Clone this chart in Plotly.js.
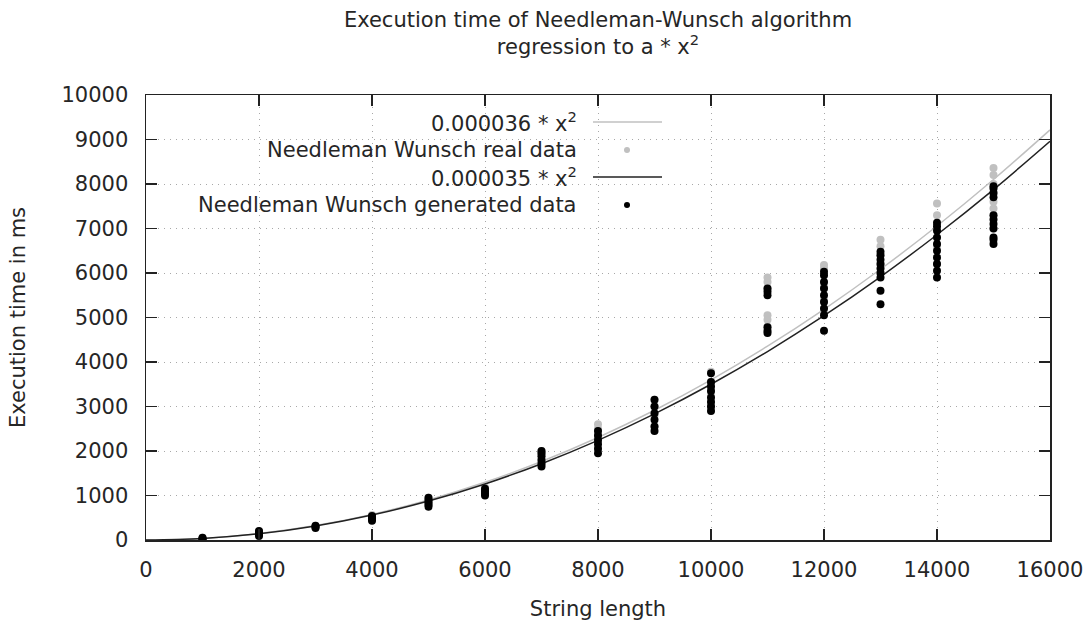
<!DOCTYPE html>
<html>
<head>
<meta charset="utf-8">
<script src="https://cdn.plot.ly/plotly-3.0.1.min.js"></script>
<style>
html,body{margin:0;padding:0;background:#fff;}
#chart{width:1089px;height:626px;}
</style>
</head>
<body>
<div id="chart"></div>
<script>
// Fitted curves sampled every 1000 characters of string length
const curveX = [0,1000,2000,3000,4000,5000,6000,7000,8000,9000,10000,11000,12000,13000,14000,15000,16000];
const fit036 = [0,36,144,324,576,900,1296,1764,2304,2916,3600,4356,5184,6084,7056,8100,9216];
const fit035 = [0,35,140,315,560,875,1260,1715,2240,2835,3500,4235,5040,5915,6860,7875,8960];

// Needleman Wunsch real data (string length, time in ms)
const realX = [
  1000,1000,1000,
  2000,2000,2000,
  3000,3000,
  4000,4000,4000,
  5000,5000,5000,
  6000,6000,6000,
  7000,7000,7000,7000,
  8000,8000,8000,8000,8000,
  9000,9000,9000,9000,
  10000,10000,10000,10000,
  11000,11000,11000,11000,11000,11000,
  12000,12000,12000,12000,12000,12000,
  13000,13000,13000,13000,13000,
  14000,14000,14000,14000,14000,
  15000,15000,15000,15000,15000,15000,15000,15000
];
const realY = [
  30,40,50,
  120,150,190,
  290,320,
  470,520,560,
  800,880,950,
  1050,1120,1180,
  1700,1800,1900,2000,
  2050,2200,2350,2500,2600,
  2550,2800,3000,3150,
  3000,3300,3550,3780,
  4800,4950,5050,5650,5800,5900,
  5100,5400,5700,5950,6100,6180,
  6000,6200,6400,6600,6750,
  6200,6600,7000,7300,7560,
  7000,7300,7450,7600,7800,8000,8200,8360
];

// Needleman Wunsch generated data
const genX = [
  1000,1000,1000,
  2000,2000,2000,2000,
  3000,3000,3000,
  4000,4000,4000,4000,
  5000,5000,5000,5000,5000,
  6000,6000,6000,6000,
  7000,7000,7000,7000,7000,7000,
  8000,8000,8000,8000,8000,8000,
  9000,9000,9000,9000,9000,9000,
  10000,10000,10000,10000,10000,10000,10000,10000,
  11000,11000,11000,11000,11000,11000,
  12000,12000,12000,12000,12000,12000,12000,12000,12000,
  13000,13000,13000,13000,13000,13000,13000,13000,13000,
  14000,14000,14000,14000,14000,14000,14000,14000,14000,14000,
  15000,15000,15000,15000,15000,15000,15000,15000,15000,15000,15000
];
const genY = [
  10,30,50,
  90,130,170,200,
  270,300,320,
  430,470,510,540,
  750,800,850,900,950,
  1000,1050,1100,1150,
  1650,1720,1800,1880,1950,2000,
  1950,2050,2150,2250,2350,2450,
  2450,2550,2700,2850,3000,3150,
  2900,3000,3100,3200,3350,3450,3550,3750,
  4650,4700,4780,5500,5580,5650,
  4700,5050,5200,5350,5500,5650,5800,5950,6030,
  5300,5600,5900,6000,6100,6200,6300,6400,6480,
  5900,6050,6200,6350,6500,6650,6800,6950,7050,7130,
  6650,6750,6800,7000,7100,7200,7300,7700,7800,7900,7950
];

const xTicks = [0,2000,4000,6000,8000,10000,12000,14000,16000];
const yTicks = [0,1000,2000,3000,4000,5000,6000,7000,8000,9000,10000];

const legendLabels = ["0.000036 * x<sup>2</sup>", "Needleman Wunsch real data", "0.000035 * x<sup>2</sup>", "Needleman Wunsch generated data"];

const GRAY = '#c0c0c0';
const TXT = '#262626';
const FONT = 'DejaVu Sans, sans-serif';
const FS = 21;

const traces = [
  {x: curveX, y: fit036, mode: 'lines', line: {color: GRAY, width: 1.5, shape: 'spline'}, name: legendLabels[0], hoverinfo: 'skip'},
  {x: realX, y: realY, mode: 'markers', marker: {color: GRAY, size: 8}, name: legendLabels[1]},
  {x: curveX, y: fit035, mode: 'lines', line: {color: '#222', width: 1.5, shape: 'spline'}, name: legendLabels[2], hoverinfo: 'skip'},
  {x: genX, y: genY, mode: 'markers', marker: {color: '#000', size: 8}, name: legendLabels[3]}
];

// Gnuplot-style legend: right-aligned text with sample on its right
const plotL = 146, plotR = 1050, plotT = 95, plotB = 540;
const W = plotR - plotL, H = plotB - plotT;
const px = v => (v - plotL) / W;
const py = v => (plotB - v) / H;
const rowsY = [122, 150, 177, 205];
const textRight = 579, sampleL = 593, sampleR = 662, markX = 627;

const annotations = legendLabels.map((t, i) => ({
  xref: 'paper', yref: 'paper', x: px(textRight), y: py(rowsY[i]),
  xanchor: 'right', yanchor: 'middle', text: t, showarrow: false,
  font: {family: FONT, size: FS, color: TXT}
}));

const shapes = [
  {type: 'line', xref: 'paper', yref: 'paper', x0: px(sampleL), x1: px(sampleR), y0: py(rowsY[0]), y1: py(rowsY[0]), line: {color: GRAY, width: 1.5}},
  {type: 'circle', xref: 'paper', yref: 'paper', x0: px(markX - 3), x1: px(markX + 3), y0: py(rowsY[1] + 3), y1: py(rowsY[1] - 3), fillcolor: GRAY, line: {width: 0}},
  {type: 'line', xref: 'paper', yref: 'paper', x0: px(sampleL), x1: px(sampleR), y0: py(rowsY[2]), y1: py(rowsY[2]), line: {color: '#222', width: 1.5}},
  {type: 'circle', xref: 'paper', yref: 'paper', x0: px(markX - 3), x1: px(markX + 3), y0: py(rowsY[3] + 3), y1: py(rowsY[3] - 3), fillcolor: '#000', line: {width: 0}}
];

const axisCommon = {
  showline: true, linecolor: '#222', linewidth: 1.5, mirror: 'ticks',
  ticks: 'inside', ticklen: 11, tickwidth: 1.5, tickcolor: '#222',
  showgrid: true, gridcolor: '#a8a8a8', gridwidth: 1, griddash: '1px,5px',
  zeroline: false, tickfont: {family: FONT, size: FS, color: TXT}
};

const layout = {
  width: 1089, height: 626,
  margin: {l: plotL, r: 1089 - plotR, t: plotT, b: 626 - plotB},
  paper_bgcolor: '#fff', plot_bgcolor: '#fff',
  showlegend: false,
  title: {text: 'Execution time of Needleman-Wunsch algorithm<br>regression to a * x<sup>2</sup>',
          x: 598 / 1089, xanchor: 'center', y: 0.957, yanchor: 'top',
          font: {family: FONT, size: FS, color: TXT}},
  xaxis: Object.assign({}, axisCommon, {
    range: [0, 16000], tickvals: xTicks, ticktext: xTicks.map(String),
    ticklabelstandoff: 10,
    title: {text: 'String length', standoff: 20, font: {family: FONT, size: FS, color: TXT}}
  }),
  yaxis: Object.assign({}, axisCommon, {
    range: [0, 10000], tickvals: yTicks, ticktext: yTicks.map(String),
    ticklabelstandoff: 12,
    title: {text: 'Execution time in ms', standoff: 30, font: {family: FONT, size: FS, color: TXT}}
  }),
  annotations: annotations,
  shapes: shapes
};

Plotly.newPlot('chart', traces, layout, {displayModeBar: false, staticPlot: true});
</script>
</body>
</html>
